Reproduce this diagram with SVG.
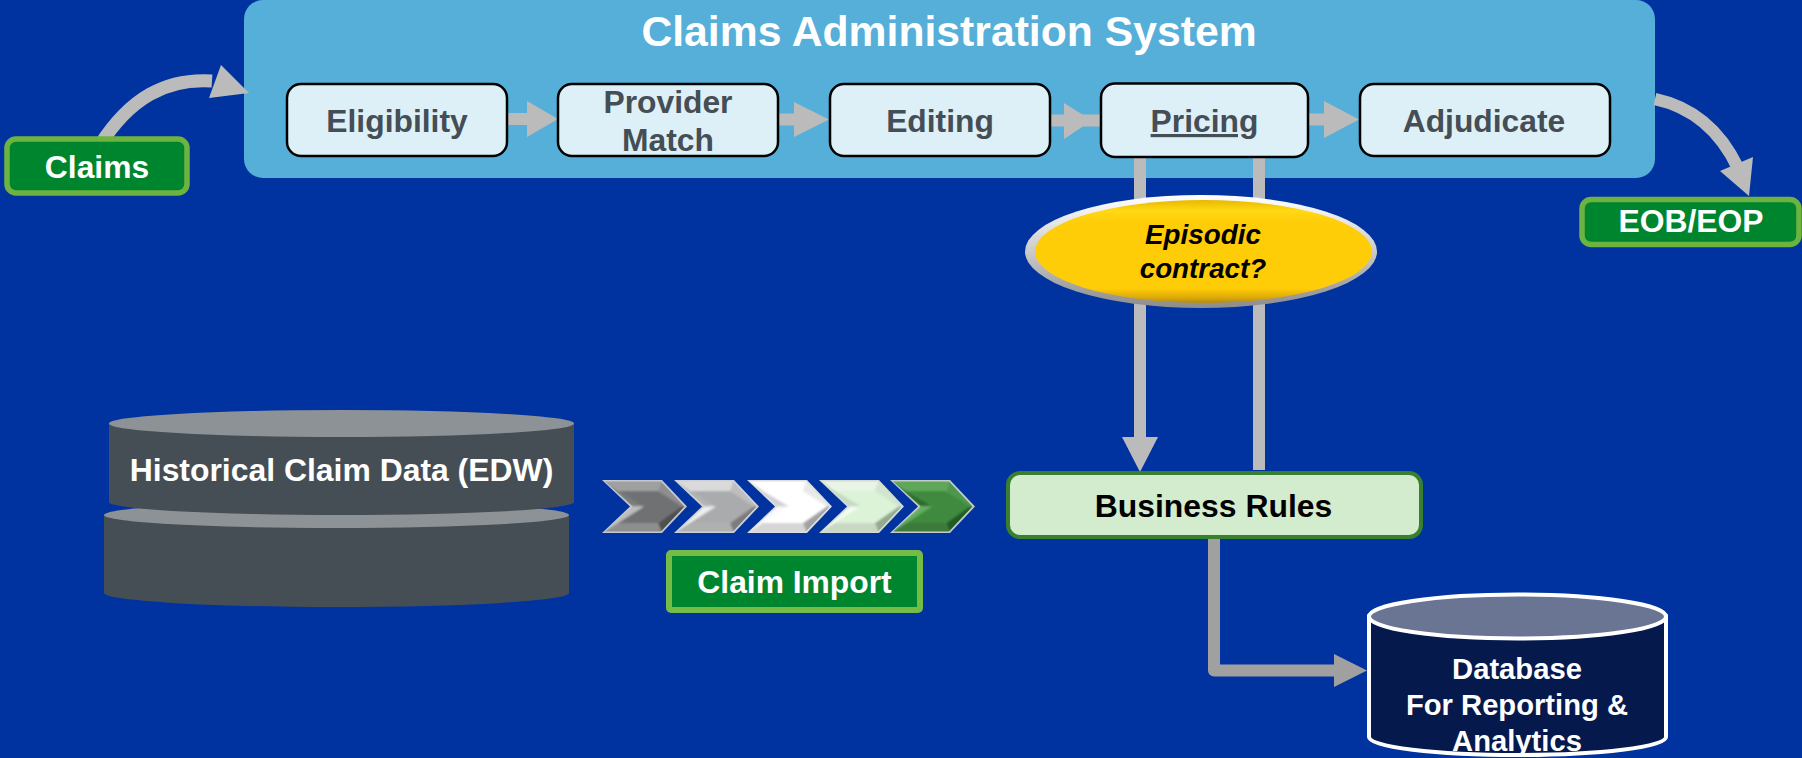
<svg xmlns="http://www.w3.org/2000/svg" xmlns:xlink="http://www.w3.org/1999/xlink" width="1802" height="758" viewBox="0 0 1802 758">
<style>
text{font-family:"Liberation Sans",Arial,sans-serif;font-weight:700;text-anchor:middle}
.step rect{fill:#DDF0F7;stroke:#000;stroke-width:2.5}
.step text{font-size:31.800px;fill:#454D55}
.tag rect{fill:#00852F;stroke:#6DB33F;stroke-width:5.5}
.tag text{font-size:31.800px;fill:#fff}
.ln{fill:none;stroke:#BBBBBB;stroke-width:12}
.hd{fill:#BBBBBB}
.hist{fill:#464E55}
.histtop{fill:#8D9296}
.c1{--o:#C4C8CE;--t:#A0A0A0;--tl:#7C7C7C;--m:#6F7173;--bl:#BDBDBD;--b:#8E8E8E;--tr:#8E8E8E;--br:#505050}
.c2{--o:#CDD0D5;--t:#DADADA;--tl:#B4B4B4;--m:#A9ABAD;--bl:#EDEDED;--b:#B0B0B0;--tr:#BEBEBE;--br:#7C7C7C}
.c3{--o:#DCDEE2;--t:#FFFFFF;--tl:#D2D2D2;--m:#FFFFFF;--bl:#FBFBFB;--b:#D6D6D6;--tr:#E9E9E9;--br:#A2A2A2}
.c4{--o:#D4DBD5;--t:#E8F5E6;--tl:#C4DAC0;--m:#DCF3D8;--bl:#F2FBF0;--b:#C8D8C5;--tr:#D2E6CE;--br:#92AA8E}
.c5{--o:#C4CAC8;--t:#5FA85A;--tl:#2C6C2C;--m:#3F8A3F;--bl:#64AE60;--b:#3A7A3A;--tr:#4F984B;--br:#215C24}
</style>
<defs>
<linearGradient id="bezel" x1="0" y1="0" x2="0" y2="1"><stop offset="0" stop-color="#FFFFFF"/><stop offset=".45" stop-color="#D0D0D0"/><stop offset="1" stop-color="#8C8C8C"/></linearGradient>
<linearGradient id="gold" x1="0" y1="0" x2="0" y2="1"><stop offset="0" stop-color="#E8B800"/><stop offset=".1" stop-color="#FFD914"/><stop offset=".22" stop-color="#FFCC08"/><stop offset=".86" stop-color="#FFCC08"/><stop offset=".95" stop-color="#DCA80A"/><stop offset="1" stop-color="#B08A18"/></linearGradient>
<filter id="soft" x="-5%" y="-5%" width="110%" height="110%"><feGaussianBlur stdDeviation="1.1"/></filter>
<g id="chev">
<polygon points="0,0 60,0 85,26.5 60,53 0,53 28,26.5" style="fill:var(--o)"/>
<clipPath id="chevclip"><polygon points="3,1.500 59,1.500 82.500,26.5 59,51.500 3,51.500 30.500,26.5"/></clipPath>
<g clip-path="url(#chevclip)">
<g filter="url(#soft)">
<polygon points="0,0 60,0 56,11 16,11" style="fill:var(--t)"/>
<polygon points="0,0 30,26.5 44,26.5 16,11" style="fill:var(--tl)"/>
<polygon points="0,53 30,26.5 44,26.5 16,43" style="fill:var(--bl)"/>
<polygon points="0,53 60,53 56,43 16,43" style="fill:var(--b)"/>
<polygon points="60,0 85,26.5 78,26.5 56,11" style="fill:var(--tr)"/>
<polygon points="60,53 85,26.5 78,26.5 56,43" style="fill:var(--br)"/>
<polygon points="16,11 56,11 80,26.5 56,43 16,43 42,26.5" style="fill:var(--m)"/>
</g>
</g>
</g>
</defs>
<rect width="1802" height="758" fill="#00339F"/>

<g id="system">
<rect x="244" y="0" width="1411" height="178" rx="19" fill="#55AFD8"/>
<text x="949" y="46" font-size="42.700" fill="#fff">Claims Administration System</text>
</g>

<g id="connectors">
<path class="ln" style="stroke-width:13" d="M100 145C130 98 166 78 212 81"/>
<polygon class="hd" points="249,93 221,65 209,98"/>
<path class="ln" style="stroke-width:12.500" d="M1655 99C1692 107 1720 130 1738 168"/>
<polygon class="hd" points="1749,196 1753,157 1720,171"/>
<path class="ln" d="M508 119H530"/><polygon class="hd" points="527,101 558,119 527,137"/>
<path class="ln" d="M778 119.500H796"/><polygon class="hd" points="794,102 829,119.500 794,137"/>
<path class="ln" d="M1050 120.500H1101"/><polygon class="hd" points="1064,103 1092,120.500 1064,139"/>
<path class="ln" d="M1308 119.500H1326"/><polygon class="hd" points="1324,101 1359,119.500 1324,138"/>
<path class="ln" d="M1140 157V440"/><polygon class="hd" points="1122,437 1158,437 1140,472"/>
<path class="ln" d="M1259 157V470"/>
<path d="M1214 535V670.500H1336" fill="none" stroke="#A0A0A0" stroke-width="12" stroke-linejoin="round"/>
<polygon fill="#A0A0A0" points="1334,654 1367,670.500 1334,687"/>
</g>

<g id="claims" class="tag"><rect x="7" y="139" width="180" height="54" rx="9"/><text x="97" y="177.500">Claims</text></g>
<g id="eob" class="tag"><rect x="1582" y="199.500" width="217" height="45" rx="9"/><text x="1691" y="232">EOB/EOP</text></g>

<g id="eligibility" class="step"><rect x="287" y="84" width="220" height="72" rx="14"/><text x="397" y="132">Eligibility</text></g>
<g id="provider" class="step"><rect x="558" y="84" width="220" height="72" rx="14"/><text x="668" y="113">Provider</text><text x="668" y="151">Match</text></g>
<g id="editing" class="step"><rect x="830" y="84" width="220" height="72" rx="14"/><text x="940" y="132">Editing</text></g>
<g id="pricing" class="step"><rect x="1101" y="83.500" width="207" height="73.500" rx="14"/><text x="1204.500" y="132" text-decoration="underline">Pricing</text></g>
<g id="adjudicate" class="step"><rect x="1360" y="84" width="250" height="72" rx="14"/><text x="1484" y="132">Adjudicate</text></g>

<g id="episodic">
<ellipse cx="1201" cy="251.500" rx="176" ry="56.500" fill="url(#bezel)"/>
<ellipse cx="1203.500" cy="251.500" rx="168.500" ry="51.500" fill="url(#gold)"/>
<text x="1203" y="244" font-size="27.800" font-style="italic" fill="#000">Episodic</text>
<text x="1203" y="278" font-size="27.800" font-style="italic" fill="#000">contract?</text>
</g>

<g id="historical">
<path class="hist" d="M104 515V593A232.500 14 0 0 0 569 593V515Z"/>
<ellipse class="histtop" cx="336.500" cy="515" rx="232.500" ry="13"/>
<path class="hist" d="M109 423V502A232.500 13 0 0 0 574 502V423Z"/>
<ellipse class="histtop" cx="341.500" cy="423.500" rx="232.500" ry="13.500"/>
<text x="341.500" y="481" font-size="31.900" fill="#fff">Historical Claim Data (EDW)</text>
</g>

<g id="chevrons">
<use xlink:href="#chev" href="#chev" x="602" y="480" class="c1"/>
<use xlink:href="#chev" href="#chev" x="674" y="480" class="c2"/>
<use xlink:href="#chev" href="#chev" x="747" y="480" class="c3"/>
<use xlink:href="#chev" href="#chev" x="819" y="480" class="c4"/>
<use xlink:href="#chev" href="#chev" x="890" y="480" class="c5"/>
</g>

<g id="claimimport" class="tag"><rect x="669" y="553" width="251" height="57" rx="2" style="stroke:#74BC45;stroke-width:6"/><text x="794.500" y="593">Claim Import</text></g>

<g id="businessrules">
<rect x="1008" y="473" width="413" height="64" rx="12" fill="#D3ECCD" stroke="#38802F" stroke-width="4"/>
<text x="1213.500" y="517" font-size="31.900" fill="#000">Business Rules</text>
</g>

<g id="database">
<path d="M1369 616.500V737A148.500 18 0 0 0 1666 737V616.500Z" fill="#06194D" stroke="#fff" stroke-width="4"/>
<ellipse cx="1517.500" cy="616.500" rx="148.500" ry="22" fill="#6A7493" stroke="#fff" stroke-width="4"/>
<text x="1517" y="679" font-size="29.200" fill="#fff">Database</text>
<text x="1517" y="715" font-size="29.200" fill="#fff">For Reporting &amp;</text>
<text x="1517" y="751" font-size="29.200" fill="#fff">Analytics</text>
</g>
</svg>
